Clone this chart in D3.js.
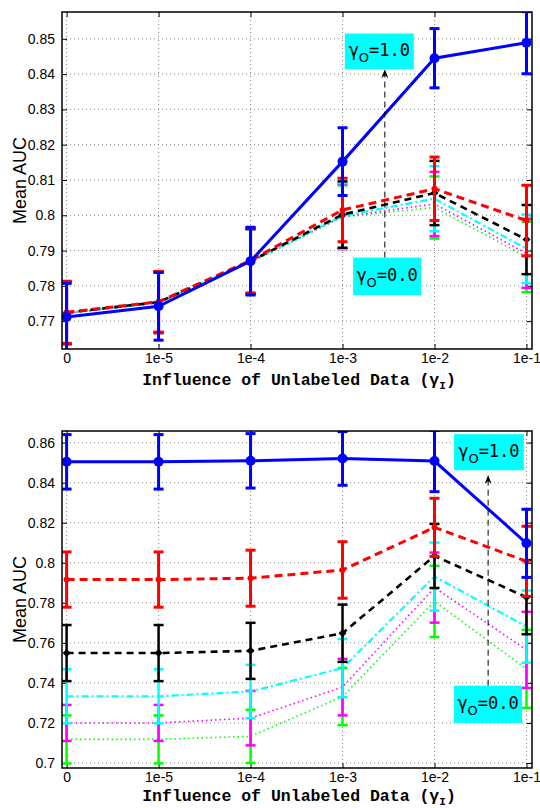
<!DOCTYPE html>
<html>
<head>
<meta charset="utf-8">
<script src="https://cdn.jsdelivr.net/npm/d3@7"></script>
<style>
body { margin: 0; background: #fff; }
</style>
</head>
<body>
<script>
// x categories (gamma_I)
const xLabels = ["0", "1e-5", "1e-4", "1e-3", "1e-2", "1e-1"];

// upper panel
const topYTicks = [0.77, 0.78, 0.79, 0.80, 0.81, 0.82, 0.83, 0.84, 0.85];
const topYTickLabels = ["0.77", "0.78", "0.79", "0.8", "0.81", "0.82", "0.83", "0.84", "0.85"];
const topG10 = [0.7712, 0.7742, 0.7870, 0.8152, 0.8445, 0.8489];
const topG10Err = [0.0095, 0.0096, 0.0096, 0.0096, 0.0084, 0.0088];
const topG08 = [0.7725, 0.7755, 0.7872, 0.8015, 0.8075, 0.7985];
const topG08Err = [0.0088, 0.0086, 0.0092, 0.0090, 0.0090, 0.0100];
const topG06 = [0.7724, 0.7754, 0.7870, 0.8002, 0.8063, 0.7931];
const topG06Err = [0.0088, 0.0086, 0.0092, 0.0094, 0.0091, 0.0098];
const topG04 = [0.7723, 0.7753, 0.7869, 0.7998, 0.8047, 0.7905];
const topG04Err = [0.0088, 0.0086, 0.0092, 0.0093, 0.0092, 0.0097];
const topG02 = [0.7722, 0.7752, 0.7868, 0.7996, 0.8032, 0.7892];
const topG02Err = [0.0088, 0.0086, 0.0092, 0.0092, 0.0091, 0.0098];
const topG00 = [0.7722, 0.7752, 0.7867, 0.7995, 0.8022, 0.7882];
const topG00Err = [0.0088, 0.0086, 0.0092, 0.0090, 0.0088, 0.0100];

// lower panel
const botYTicks = [0.70, 0.72, 0.74, 0.76, 0.78, 0.80, 0.82, 0.84, 0.86];
const botYTickLabels = ["0.7", "0.72", "0.74", "0.76", "0.78", "0.8", "0.82", "0.84", "0.86"];
const botG10 = [0.8504, 0.8504, 0.8509, 0.8521, 0.8508, 0.8097];
const botG10Err = [0.0136, 0.0136, 0.0136, 0.0134, 0.0153, 0.0170];
const botG08 = [0.7916, 0.7916, 0.7923, 0.7964, 0.8177, 0.8007];
const botG08Err = [0.0138, 0.0138, 0.0140, 0.0141, 0.0145, 0.0175];
const botG06 = [0.7549, 0.7549, 0.7560, 0.7648, 0.8034, 0.7828];
const botG06Err = [0.0140, 0.0140, 0.0140, 0.0143, 0.0160, 0.0185];
const botG04 = [0.7333, 0.7333, 0.7357, 0.7474, 0.7931, 0.7681];
const botG04Err = [0.0135, 0.0135, 0.0133, 0.0145, 0.0170, 0.0180];
const botG02 = [0.7200, 0.7200, 0.7224, 0.7379, 0.7876, 0.7565];
const botG02Err = [0.0090, 0.0090, 0.0136, 0.0141, 0.0175, 0.0190];
const botG00 = [0.7118, 0.7118, 0.7133, 0.7332, 0.7807, 0.7470];
const botG00Err = [0.0120, 0.0120, 0.0133, 0.0143, 0.0178, 0.0195];

// line styles, drawn in this order (last on top)
const styles = [
  {color: "#00ff00", width: 1.6, dash: "1.5,3", ebw: 2.5, marker: null},
  {color: "#ff00ff", width: 1.6, dash: "1.5,3", ebw: 2.5, marker: null},
  {color: "#00ffff", width: 2.2, dash: "7,3,2,3", ebw: 2.5, marker: null},
  {color: "#000000", width: 2.6, dash: "7,5", ebw: 2.5, marker: "diamond"},
  {color: "#ff0000", width: 3, dash: "8,5", ebw: 3, marker: "dot"},
  {color: "#0000ff", width: 3, dash: null, ebw: 3, marker: "circle"}
];

const W = 540, H = 808;
const svg = d3.select("body").append("svg")
  .attr("width", W).attr("height", H);

const left = 62, right = 532;
const x = d3.scaleLinear().domain([-0.05, 5.06]).range([left, right]);

function panel(id, top, bottom, yDomain, yTicks, yTickLabels, means, errs, notes) {
  const y = d3.scaleLinear().domain(yDomain).range([bottom, top]);
  const g = svg.append("g");

  g.append("clipPath").attr("id", "clip" + id)
    .append("rect").attr("x", left).attr("y", top)
    .attr("width", right - left).attr("height", bottom - top);

  // grid
  const grid = g.append("g").attr("stroke", "#888").attr("stroke-width", 1)
    .attr("stroke-dasharray", "1,3");
  xLabels.forEach((d, i) => {
    grid.append("line").attr("x1", x(i)).attr("x2", x(i))
      .attr("y1", top).attr("y2", bottom);
  });
  yTicks.forEach(v => {
    grid.append("line").attr("x1", left).attr("x2", right)
      .attr("y1", y(v)).attr("y2", y(v));
  });

  // axes with inward ticks
  const xAxisB = d3.axisBottom(x).tickValues(d3.range(xLabels.length))
    .tickFormat(i => xLabels[i]).tickSizeInner(-5).tickSizeOuter(0).tickPadding(4);
  const xAxisT = d3.axisTop(x).tickValues(d3.range(xLabels.length))
    .tickFormat("").tickSizeInner(-5).tickSizeOuter(0);
  const yAxisL = d3.axisLeft(y).tickValues(yTicks)
    .tickFormat((d, i) => yTickLabels[i]).tickSizeInner(-5).tickSizeOuter(0).tickPadding(7);
  const yAxisR = d3.axisRight(y).tickValues(yTicks)
    .tickFormat("").tickSizeInner(-5).tickSizeOuter(0);

  const axes = [
    [xAxisB, `translate(0,${bottom})`],
    [xAxisT, `translate(0,${top})`],
    [yAxisL, `translate(${left},0)`],
    [yAxisR, `translate(${right},0)`]
  ];
  axes.forEach(([ax, tr]) => {
    const a = g.append("g").attr("transform", tr).call(ax);
    a.select(".domain").remove();
    a.selectAll("line").attr("stroke", "#000").attr("stroke-width", 1);
    a.selectAll("text").attr("font-family", "Liberation Sans, Arial, sans-serif")
      .attr("font-size", 14).attr("fill", "#000");
  });

  // series
  const plot = g.append("g").attr("clip-path", `url(#clip${id})`);
  const line = d3.line().x((d, i) => x(i)).y(d => y(d));
  styles.forEach((s, k) => {
    const m = means[k], e = errs[k];
    const sg = plot.append("g");
    // error bars
    m.forEach((v, i) => {
      const px = x(i), y1 = y(v + e[i]), y2 = y(v - e[i]);
      sg.append("line").attr("x1", px).attr("x2", px).attr("y1", y1).attr("y2", y2)
        .attr("stroke", s.color).attr("stroke-width", s.ebw);
      [y1, y2].forEach(yy => {
        sg.append("line").attr("x1", px - 5).attr("x2", px + 5).attr("y1", yy).attr("y2", yy)
          .attr("stroke", s.color).attr("stroke-width", s.ebw);
      });
    });
    sg.append("path").datum(m).attr("d", line)
      .attr("fill", "none").attr("stroke", s.color).attr("stroke-width", s.width)
      .attr("stroke-dasharray", s.dash);
    if (s.marker) {
      m.forEach((v, i) => {
        if (s.marker === "circle") {
          sg.append("circle").attr("cx", x(i)).attr("cy", y(v)).attr("r", 5).attr("fill", s.color);
        } else if (s.marker === "dot") {
          sg.append("circle").attr("cx", x(i)).attr("cy", y(v)).attr("r", 3).attr("fill", s.color);
        } else {
          sg.append("path").attr("transform", `translate(${x(i)},${y(v)})`)
            .attr("d", "M0,-4L4,0L0,4L-4,0Z").attr("fill", s.color);
        }
      });
    }
  });

  // frame
  g.append("rect").attr("x", left).attr("y", top)
    .attr("width", right - left).attr("height", bottom - top)
    .attr("fill", "none").attr("stroke", "#000").attr("stroke-width", 1.5);

  // annotation arrow (gamma_O = 0.0 -> 1.0)
  const ax0 = x(notes.arrowX), ay0 = y(notes.arrowFrom), ay1 = y(notes.arrowTo);
  g.append("line").attr("x1", ax0).attr("x2", ax0).attr("y1", ay0).attr("y2", ay1 + 4)
    .attr("stroke", "#000").attr("stroke-width", 1).attr("stroke-dasharray", "6,4");
  g.append("path").attr("d", `M${ax0},${ay1}L${ax0 - 3.5},${ay1 + 9}L${ax0},${ay1 + 6}L${ax0 + 3.5},${ay1 + 9}Z`)
    .attr("fill", "#000");

  notes.boxes.forEach(b => {
    const x0 = x(b.x0), x1 = x(b.x1), y0 = y(b.y0), y1 = y(b.y1);
    g.append("rect").attr("x", x0).attr("y", y0).attr("width", x1 - x0).attr("height", y1 - y0)
      .attr("fill", "#00ffff");
    const t = g.append("text").attr("x", (x0 + x1) / 2).attr("y", (y0 + y1) / 2 + 5)
      .attr("text-anchor", "middle").attr("font-size", 17).attr("fill", "#000");
    t.append("tspan").attr("font-family", "DejaVu Sans, sans-serif").text("γ");
    t.append("tspan").attr("font-family", "DejaVu Sans, sans-serif").attr("font-size", 13)
      .attr("dy", 6).text("O");
    t.append("tspan").attr("font-family", "DejaVu Sans Mono, monospace").attr("dy", -6)
      .text(b.label);
  });

  // axis titles
  const xt = g.append("text").attr("x", (left + right) / 2 + 2).attr("y", bottom + notes.titleGap)
    .attr("text-anchor", "middle").attr("font-family", "Liberation Mono, Courier New, monospace")
    .attr("font-weight", "bold").attr("font-size", 16.5).attr("fill", "#000")
    .text("Influence of Unlabeled Data (γ");
  xt.append("tspan").attr("font-size", 11).attr("dy", 4).text("I");
  xt.append("tspan").attr("dy", -4).text(")");

  g.append("text").attr("transform", `translate(26,${(top + bottom) / 2}) rotate(-90)`)
    .attr("text-anchor", "middle").attr("font-family", "Liberation Sans, Arial, sans-serif")
    .attr("font-size", 18).attr("fill", "#000").text("Mean AUC");
}

panel("top", 12, 349, [0.7621, 0.8576], topYTicks, topYTickLabels,
  [topG00, topG02, topG04, topG06, topG08, topG10],
  [topG00Err, topG02Err, topG04Err, topG06Err, topG08Err, topG10Err],
  {
    titleGap: 36,
    arrowX: 3.46, arrowFrom: 0.7880, arrowTo: 0.8414,
    boxes: [
      {x0: 3.025, x1: 3.775, y0: 0.8515, y1: 0.8414, label: "=1.0"},
      {x0: 3.115, x1: 3.855, y0: 0.7880, y1: 0.7774, label: "=0.0"}
    ]
  });

panel("bot", 431, 768, [0.6975, 0.8658], botYTicks, botYTickLabels,
  [botG00, botG02, botG04, botG06, botG08, botG10],
  [botG00Err, botG02Err, botG04Err, botG06Err, botG08Err, botG10Err],
  {
    titleGap: 33,
    arrowX: 4.583, arrowFrom: 0.7386, arrowTo: 0.8438,
    boxes: [
      {x0: 4.213, x1: 4.971, y0: 0.8642, y1: 0.8462, label: "=1.0"},
      {x0: 4.213, x1: 4.952, y0: 0.7386, y1: 0.7200, label: "=0.0"}
    ]
  });
</script>
</body>
</html>
